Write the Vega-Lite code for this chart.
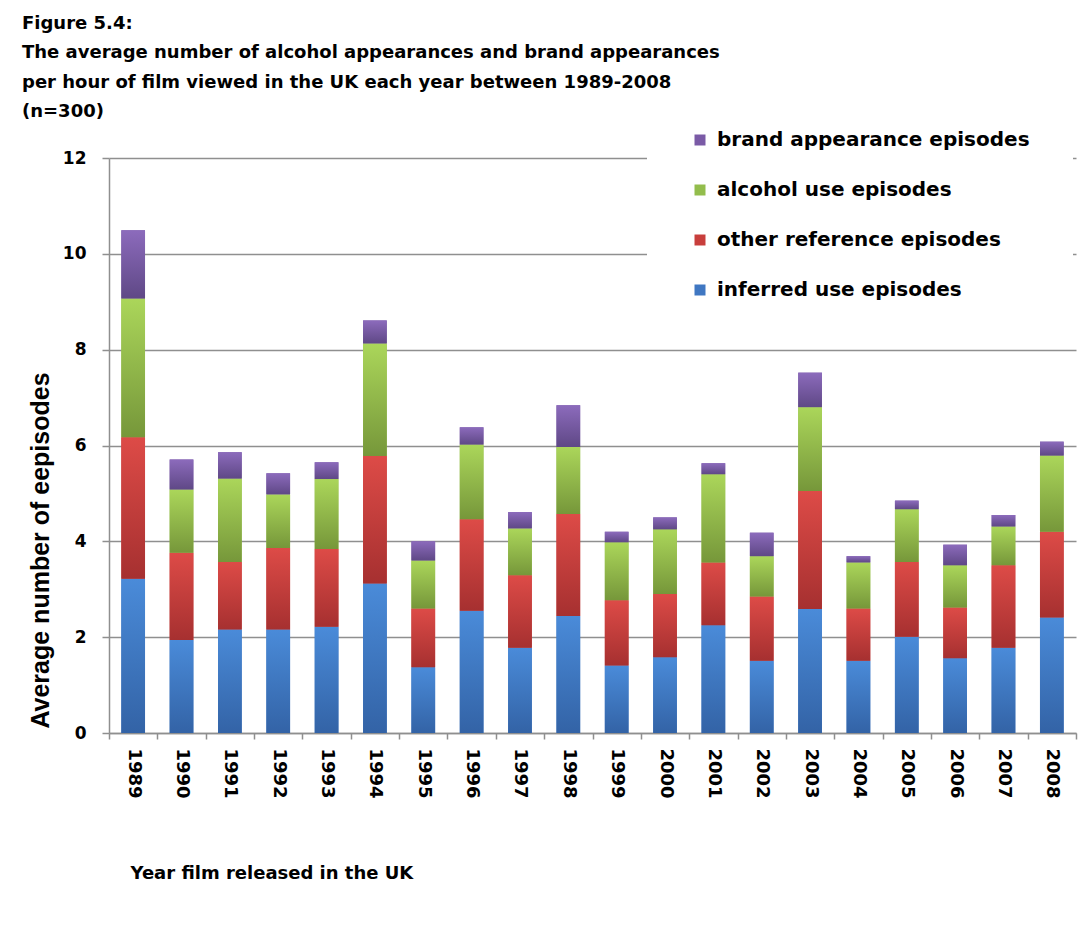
{
  "$schema": "https://vega.github.io/schema/vega-lite/v6.json",
  "width": 967,
  "height": 575,
  "autosize": "none",
  "padding": {"left": 109, "top": 158, "right": 16, "bottom": 200},
  "background": "white",
  "title": {
    "text": ["Figure 5.4:", "The average number of alcohol appearances and brand appearances", "per hour of film viewed in the UK each year between 1989-2008", "(n=300)"],
    "anchor": "start",
    "frame": "group",
    "offset": 0,
    "dx": -87,
    "dy": 34,
    "font": "DejaVu Sans",
    "fontSize": 18,
    "fontWeight": "bold",
    "color": "black",
    "lineHeight": 29.5
  },
  "data": {
    "values": [
      {"year": "1989", "category": "inferred use episodes", "value": 3.22},
      {"year": "1989", "category": "other reference episodes", "value": 2.95},
      {"year": "1989", "category": "alcohol use episodes", "value": 2.90},
      {"year": "1989", "category": "brand appearance episodes", "value": 1.42},
      {"year": "1990", "category": "inferred use episodes", "value": 1.94},
      {"year": "1990", "category": "other reference episodes", "value": 1.82},
      {"year": "1990", "category": "alcohol use episodes", "value": 1.32},
      {"year": "1990", "category": "brand appearance episodes", "value": 0.63},
      {"year": "1991", "category": "inferred use episodes", "value": 2.16},
      {"year": "1991", "category": "other reference episodes", "value": 1.41},
      {"year": "1991", "category": "alcohol use episodes", "value": 1.74},
      {"year": "1991", "category": "brand appearance episodes", "value": 0.55},
      {"year": "1992", "category": "inferred use episodes", "value": 2.16},
      {"year": "1992", "category": "other reference episodes", "value": 1.70},
      {"year": "1992", "category": "alcohol use episodes", "value": 1.12},
      {"year": "1992", "category": "brand appearance episodes", "value": 0.44},
      {"year": "1993", "category": "inferred use episodes", "value": 2.22},
      {"year": "1993", "category": "other reference episodes", "value": 1.62},
      {"year": "1993", "category": "alcohol use episodes", "value": 1.46},
      {"year": "1993", "category": "brand appearance episodes", "value": 0.35},
      {"year": "1994", "category": "inferred use episodes", "value": 3.12},
      {"year": "1994", "category": "other reference episodes", "value": 2.66},
      {"year": "1994", "category": "alcohol use episodes", "value": 2.35},
      {"year": "1994", "category": "brand appearance episodes", "value": 0.48},
      {"year": "1995", "category": "inferred use episodes", "value": 1.37},
      {"year": "1995", "category": "other reference episodes", "value": 1.23},
      {"year": "1995", "category": "alcohol use episodes", "value": 1.00},
      {"year": "1995", "category": "brand appearance episodes", "value": 0.40},
      {"year": "1996", "category": "inferred use episodes", "value": 2.55},
      {"year": "1996", "category": "other reference episodes", "value": 1.91},
      {"year": "1996", "category": "alcohol use episodes", "value": 1.56},
      {"year": "1996", "category": "brand appearance episodes", "value": 0.36},
      {"year": "1997", "category": "inferred use episodes", "value": 1.78},
      {"year": "1997", "category": "other reference episodes", "value": 1.51},
      {"year": "1997", "category": "alcohol use episodes", "value": 0.98},
      {"year": "1997", "category": "brand appearance episodes", "value": 0.34},
      {"year": "1998", "category": "inferred use episodes", "value": 2.44},
      {"year": "1998", "category": "other reference episodes", "value": 2.13},
      {"year": "1998", "category": "alcohol use episodes", "value": 1.40},
      {"year": "1998", "category": "brand appearance episodes", "value": 0.87},
      {"year": "1999", "category": "inferred use episodes", "value": 1.41},
      {"year": "1999", "category": "other reference episodes", "value": 1.36},
      {"year": "1999", "category": "alcohol use episodes", "value": 1.21},
      {"year": "1999", "category": "brand appearance episodes", "value": 0.22},
      {"year": "2000", "category": "inferred use episodes", "value": 1.58},
      {"year": "2000", "category": "other reference episodes", "value": 1.32},
      {"year": "2000", "category": "alcohol use episodes", "value": 1.35},
      {"year": "2000", "category": "brand appearance episodes", "value": 0.25},
      {"year": "2001", "category": "inferred use episodes", "value": 2.25},
      {"year": "2001", "category": "other reference episodes", "value": 1.31},
      {"year": "2001", "category": "alcohol use episodes", "value": 1.84},
      {"year": "2001", "category": "brand appearance episodes", "value": 0.23},
      {"year": "2002", "category": "inferred use episodes", "value": 1.51},
      {"year": "2002", "category": "other reference episodes", "value": 1.34},
      {"year": "2002", "category": "alcohol use episodes", "value": 0.84},
      {"year": "2002", "category": "brand appearance episodes", "value": 0.49},
      {"year": "2003", "category": "inferred use episodes", "value": 2.59},
      {"year": "2003", "category": "other reference episodes", "value": 2.46},
      {"year": "2003", "category": "alcohol use episodes", "value": 1.75},
      {"year": "2003", "category": "brand appearance episodes", "value": 0.72},
      {"year": "2004", "category": "inferred use episodes", "value": 1.51},
      {"year": "2004", "category": "other reference episodes", "value": 1.09},
      {"year": "2004", "category": "alcohol use episodes", "value": 0.96},
      {"year": "2004", "category": "brand appearance episodes", "value": 0.13},
      {"year": "2005", "category": "inferred use episodes", "value": 2.01},
      {"year": "2005", "category": "other reference episodes", "value": 1.56},
      {"year": "2005", "category": "alcohol use episodes", "value": 1.10},
      {"year": "2005", "category": "brand appearance episodes", "value": 0.18},
      {"year": "2006", "category": "inferred use episodes", "value": 1.56},
      {"year": "2006", "category": "other reference episodes", "value": 1.06},
      {"year": "2006", "category": "alcohol use episodes", "value": 0.88},
      {"year": "2006", "category": "brand appearance episodes", "value": 0.43},
      {"year": "2007", "category": "inferred use episodes", "value": 1.78},
      {"year": "2007", "category": "other reference episodes", "value": 1.72},
      {"year": "2007", "category": "alcohol use episodes", "value": 0.81},
      {"year": "2007", "category": "brand appearance episodes", "value": 0.24},
      {"year": "2008", "category": "inferred use episodes", "value": 2.41},
      {"year": "2008", "category": "other reference episodes", "value": 1.79},
      {"year": "2008", "category": "alcohol use episodes", "value": 1.59},
      {"year": "2008", "category": "brand appearance episodes", "value": 0.29}
    ]
  },
  "transform": [
    {"calculate": "indexof(['inferred use episodes','other reference episodes','alcohol use episodes','brand appearance episodes'], datum.category)", "as": "k"},
    {"stack": "value", "groupby": ["year"], "sort": [{"field": "k", "order": "ascending"}], "as": ["y0", "y1"]}
  ],
  "encoding": {
    "x": {
      "field": "year",
      "type": "ordinal",
      "scale": {"paddingInner": 0, "paddingOuter": 0},
      "axis": {
        "title": "Year film released in the UK",
        "labelAngle": 90,
        "labelFont": "DejaVu Sans",
        "labelFontSize": 18,
        "labelFontWeight": "bold",
        "labelColor": "black",
        "labelPadding": 9,
        "tickBand": "extent",
        "tickSize": 6,
        "tickColor": "#8f8f8f",
        "tickWidth": 1.5,
        "domainColor": "#8f8f8f",
        "domainWidth": 1.5,
        "grid": false,
        "titleFont": "DejaVu Sans",
        "titleFontSize": 18,
        "titleFontWeight": "bold",
        "titleColor": "black",
        "titleAnchor": "start",
        "titleAlign": "left",
        "titleX": 21,
        "titleY": 140,
        "titleBaseline": "middle"
      }
    },
    "y": {
      "field": "y0",
      "type": "quantitative",
      "scale": {"domain": [0, 12]},
      "axis": {
        "title": "Average number of eepisodes",
        "values": [0, 2, 4, 6, 8, 10, 12],
        "labelFont": "DejaVu Sans",
        "labelFontSize": 17,
        "labelFontWeight": "bold",
        "labelColor": "black",
        "labelPadding": 16,
        "tickSize": 7,
        "tickColor": "#8f8f8f",
        "tickWidth": 1.5,
        "domainColor": "#8f8f8f",
        "domainWidth": 1.5,
        "gridColor": "#8f8f8f",
        "gridWidth": 1.5,
        "titleFont": "Liberation Sans",
        "titleFontSize": 25,
        "titleFontWeight": "bold",
        "titleColor": "black",
        "titleAngle": -90,
        "titleX": -69,
        "titleY": 392,
        "titleAlign": "center",
        "titleBaseline": "middle"
      }
    },
    "y2": {"field": "y1"}
  },
  "layer": [
    {
      "mark": {"type": "bar", "width": {"band": 0.49}},
      "encoding": {
        "color": {
          "field": "category",
          "type": "nominal",
          "scale": {
            "domain": ["brand appearance episodes", "alcohol use episodes", "other reference episodes", "inferred use episodes"],
            "range": ["#7a5aa6", "#93bd4c", "#c83e3c", "#3f77c2"]
          },
          "legend": {
            "orient": "none",
            "legendX": 538,
            "legendY": -71,
            "title": null,
            "fillColor": "white",
            "padding": 43,
            "labelFont": "DejaVu Sans",
            "labelFontSize": 20,
            "labelFontWeight": "bold",
            "labelColor": "black",
            "labelOffset": 7,
            "labelLimit": 500,
            "symbolType": "square",
            "symbolSize": 121,
            "symbolStrokeWidth": 0,
            "rowPadding": 30
          }
        }
      }
    },
    {
      "transform": [{"filter": "datum.category === 'inferred use episodes'"}],
      "mark": {"type": "bar", "width": {"band": 0.49}, "color": {"gradient": "linear", "x1": 0, "y1": 0, "x2": 0, "y2": 1, "stops": [{"offset": 0, "color": "#4a8bd9"}, {"offset": 1, "color": "#3363a6"}]}}
    },
    {
      "transform": [{"filter": "datum.category === 'other reference episodes'"}],
      "mark": {"type": "bar", "width": {"band": 0.49}, "color": {"gradient": "linear", "x1": 0, "y1": 0, "x2": 0, "y2": 1, "stops": [{"offset": 0, "color": "#dd4b47"}, {"offset": 1, "color": "#a63030"}]}}
    },
    {
      "transform": [{"filter": "datum.category === 'alcohol use episodes'"}],
      "mark": {"type": "bar", "width": {"band": 0.49}, "color": {"gradient": "linear", "x1": 0, "y1": 0, "x2": 0, "y2": 1, "stops": [{"offset": 0, "color": "#abd65a"}, {"offset": 1, "color": "#76973a"}]}}
    },
    {
      "transform": [{"filter": "datum.category === 'brand appearance episodes'"}],
      "mark": {"type": "bar", "width": {"band": 0.49}, "color": {"gradient": "linear", "x1": 0, "y1": 0, "x2": 0, "y2": 1, "stops": [{"offset": 0, "color": "#8c6bbc"}, {"offset": 1, "color": "#5f4886"}]}}
    }
  ],
  "config": {"view": {"stroke": null}}
}
